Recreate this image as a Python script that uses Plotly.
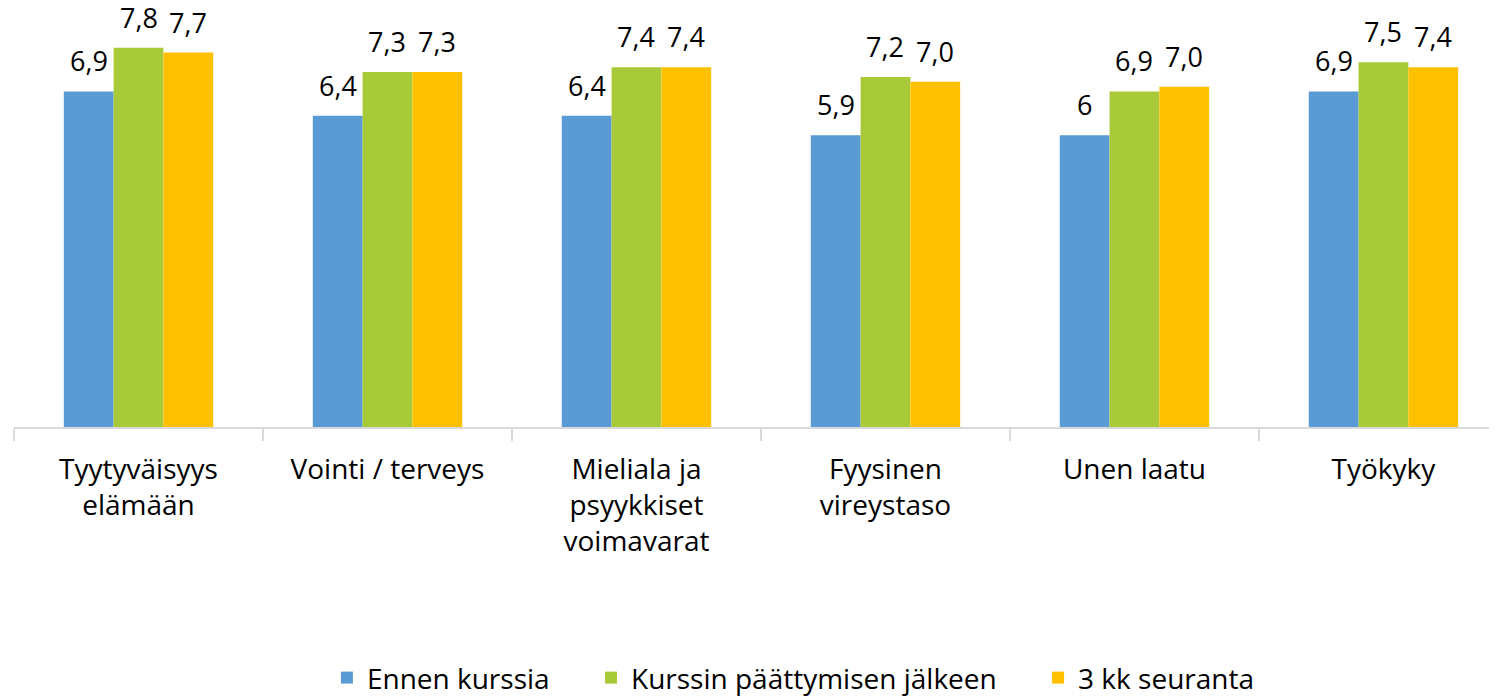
import plotly.graph_objects as go

categories = ["Tyytyväisyys<br>elämään", "Vointi / terveys", "Mieliala ja<br>psyykkiset<br>voimavarat",
              "Fyysinen<br>vireystaso", "Unen laatu", "Työkyky"]
series_names = ["Ennen kurssia", "Kurssin päättymisen jälkeen", "3 kk seuranta"]
before = [6.9, 6.4, 6.4, 6.0, 6.0, 6.9]
after = [7.8, 7.3, 7.4, 7.2, 6.9, 7.5]
followup = [7.7, 7.3, 7.4, 7.1, 7.0, 7.4]
before_labels = ["6,9", "6,4", "6,4", "5,9", "6", "6,9"]
after_labels = ["7,8", "7,3", "7,4", "7,2", "6,9", "7,5"]
followup_labels = ["7,7", "7,3", "7,4", "7,0", "7,0", "7,4"]
colors = ["#5B9BD5", "#A8C938", "#FFC000"]

FONT = "Open Sans"
PAD = "\u00a0" * 5
fig = go.Figure()
all_vals = [before, after, followup]
all_labels = [before_labels, after_labels, followup_labels]
for k, (name, vals, col) in enumerate(zip(series_names, all_vals, colors)):
    fig.add_trace(go.Bar(x=categories, y=vals, name=name + (PAD if k < 2 else ""),
                         marker_color=col, marker_line_width=0))

# data labels as annotations
plot_w = 1483
cat_px = plot_w / 5.956
bar_px = cat_px * 0.6 / 3
for i, (vals, labs) in enumerate(zip(all_vals, all_labels)):
    for c, v, t in zip(categories, vals, labs):
        fig.add_annotation(x=c, y=v, text=t, showarrow=False, xref="x", yref="y",
                           xshift=(i - 1) * bar_px, yanchor="bottom", yshift=10,
                           font=dict(family=FONT, size=27, color="#000000"))

fig.update_layout(
    width=1489, height=690,
    margin=dict(l=6, r=0, t=30, b=271, autoexpand=False),
    barmode="group", bargap=0.4, bargroupgap=0,
    plot_bgcolor="white", paper_bgcolor="white",
    font=dict(family=FONT, color="#000000"),
    showlegend=True,
    legend=dict(orientation="h", x=0.211, xanchor="left", y=-0.645, yanchor="middle",
                font=dict(family=FONT, size=28, color="#000000"),
                traceorder="normal", itemwidth=30),
    xaxis=dict(range=[-0.5, 5.456], showline=True, linecolor="#D9D9D9", linewidth=2,
               ticks="outside", tickson="boundaries", ticklen=12, tickcolor="#D9D9D9",
               tickwidth=2, tickfont=dict(family=FONT, size=28, color="#000000"),
               ticklabelstandoff=16, showgrid=False, zeroline=False, automargin=False),
    yaxis=dict(range=[0, 8], visible=False, showgrid=False, zeroline=False, automargin=False),
)

fig.write_html("out.html")
